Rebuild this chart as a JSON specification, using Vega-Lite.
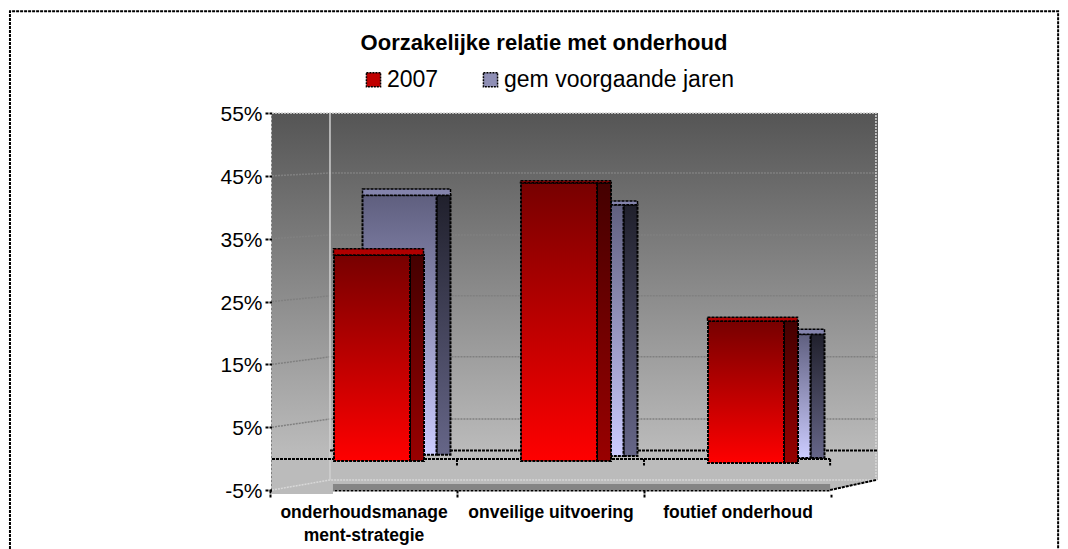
{
"$schema":"https://vega.github.io/schema/vega-lite/v6.json",
"width":606,"height":377,
"autosize":{"type":"none"},
"padding":{"left":272,"top":113,"right":190,"bottom":59},
"background":"white",
"config":{"view":{"stroke":null},"font":"Liberation Sans"},
"title":{"text":"Oorzakelijke relatie met onderhoud","font":"Liberation Sans","fontSize":22,"fontWeight":"bold","color":"#000","anchor":"middle","frame":"group","dx":-31,"dy":62,"offset":14},
"datasets":{
"bars":[
{"oorzaak":"onderhoudsmanagement-strategie","reeks":"2007","hoog":33.4,"vlak":32.4,"laag":-0.4},
{"oorzaak":"onveilige uitvoering","reeks":"2007","hoog":44.2,"vlak":43.9,"laag":-0.4},
{"oorzaak":"foutief onderhoud","reeks":"2007","hoog":22.5,"vlak":21.9,"laag":-0.7},
{"oorzaak":"onderhoudsmanagement-strategie","reeks":"gem voorgaande jaren","hoog":42.9,"vlak":41.9,"laag":0.6},
{"oorzaak":"onveilige uitvoering","reeks":"gem voorgaande jaren","hoog":41,"vlak":40.4,"laag":0.4},
{"oorzaak":"foutief onderhoud","reeks":"gem voorgaande jaren","hoog":20.6,"vlak":19.8,"laag":0.1}
],
"lijnen":[
{"deel":"g45","x":0.011,"y":45},{"deel":"g45","x":0.321,"y":45.45},{"deel":"g45","x":3.251,"y":45.45},
{"deel":"g35","x":0.011,"y":35},{"deel":"g35","x":0.321,"y":35.6},{"deel":"g35","x":3.251,"y":35.6},
{"deel":"g25","x":0.011,"y":25},{"deel":"g25","x":0.321,"y":25.9},{"deel":"g25","x":3.251,"y":25.9},
{"deel":"g15","x":0.011,"y":15},{"deel":"g15","x":0.321,"y":16.2},{"deel":"g15","x":3.251,"y":16.2},
{"deel":"g5","x":0.011,"y":5},{"deel":"g5","x":0.321,"y":6.3},{"deel":"g5","x":3.251,"y":6.3}
],
"zwart":[
{"deel":"rear","x":0.321,"y":1.3},{"deel":"rear","x":3.251,"y":1.3},
{"deel":"front","x":0.011,"y":-0.07},{"deel":"front","x":2.995,"y":-0.07},
{"deel":"t1","x":1,"y":-0.07},{"deel":"t1","x":1,"y":-1.1},
{"deel":"t2","x":2,"y":-0.07},{"deel":"t2","x":2,"y":-1.1},
{"deel":"t3","x":2.995,"y":-0.07},{"deel":"t3","x":2.995,"y":-1.1},
{"deel":"diag","x":2.995,"y":-5},{"deel":"diag","x":3.24,"y":-3.41},
{"deel":"frame","x":-1.39,"y":-14.4},{"deel":"frame","x":-1.39,"y":71.2},{"deel":"frame","x":4.214,"y":71.2},{"deel":"frame","x":4.214,"y":-14.4}
],
"vloer":[
{"deel":"f1","x":0.011,"y":-5},{"deel":"f1","x":0.321,"y":-3.41},{"deel":"f1","x":3.24,"y":-3.41},
{"deel":"f2","x":0.011,"y":55},{"deel":"f2","x":3.24,"y":55},{"deel":"f2","x":3.24,"y":-3.41}
]
},
"layer":[
{
"layer":[
{"data":{"values":[{"x":0.011,"x2":3.251,"y":55,"y2":-5}]},
 "mark":{"type":"rect","fill":{"gradient":"linear","x1":0,"y1":0,"x2":0,"y2":1,"stops":[{"offset":0,"color":"#555555"},{"offset":0.9,"color":"#bbbbbb"},{"offset":1,"color":"#bbbbbb"}]}},
 "encoding":{"x":{"field":"x","type":"quantitative","axis":null,"scale":{"domain":[0.011,3.251],"nice":false,"zero":false}},"x2":{"field":"x2"},"y":{"field":"y","type":"quantitative"},"y2":{"field":"y2"}}},
{"data":{"values":[{"x":2.995,"y":-5,"y2":-5.7},{"x":3.251,"y":-3.41,"y2":-5.7}]},
 "mark":{"type":"area","color":"white"},
 "encoding":{"x":{"field":"x","type":"quantitative"},"y":{"field":"y","type":"quantitative"},"y2":{"field":"y2"}}},
{"data":{"values":[{"x":0.337,"y":-4.05,"y2":-5},{"x":2.995,"y":-4.05,"y2":-5}]},
 "mark":{"type":"area","color":"#858585"},
 "encoding":{"x":{"field":"x","type":"quantitative"},"y":{"field":"y","type":"quantitative"},"y2":{"field":"y2"}}},
{"data":{"values":[{"x":0.011,"x2":0.337,"y":-5,"y2":-5.65}]},
 "mark":{"type":"rect","color":"#bbbbbb"},
 "encoding":{"x":{"field":"x","type":"quantitative"},"x2":{"field":"x2"},"y":{"field":"y","type":"quantitative"},"y2":{"field":"y2"}}},
{"data":{"name":"lijnen"},
 "mark":{"type":"line","color":"#808080","strokeWidth":1.5,"strokeDash":[2,1]},
 "encoding":{"detail":{"field":"deel"},"order":{"field":"x","type":"quantitative"},"x":{"field":"x","type":"quantitative"},"y":{"field":"y","type":"quantitative"}}},
{"data":{"name":"vloer"},
 "mark":{"type":"line","color":"#d8d8d8","strokeWidth":1.5,"strokeDash":[2,1]},
 "encoding":{"detail":{"field":"deel"},"x":{"field":"x","type":"quantitative"},"y":{"field":"y","type":"quantitative"},"order":{"value":null}}},
{"data":{"values":[{"x":0.321,"y":55,"y2":-3.41}]},
 "mark":{"type":"rule","color":"#d0d0d0","strokeWidth":1.5},
 "encoding":{"x":{"field":"x","type":"quantitative"},"y":{"field":"y","type":"quantitative"},"y2":{"field":"y2"}}},
{"data":{"name":"zwart"},
 "mark":{"type":"line","color":"#000","strokeWidth":2,"strokeDash":[3,1],"clip":false},
 "encoding":{"detail":{"field":"deel"},"x":{"field":"x","type":"quantitative"},"y":{"field":"y","type":"quantitative"},"order":{"value":null}}}
]
},
{
"data":{"name":"bars"},
"encoding":{
 "x":{"field":"oorzaak","type":"nominal","sort":null,"title":null,
  "scale":{"type":"band","domain":["onderhoudsmanagement-strategie","onveilige uitvoering","foutief onderhoud"],"range":[-2,559],"padding":0},
  "axis":{"orient":"bottom","labelExpr":"datum.value=='onderhoudsmanagement-strategie'?['onderhoudsmanage','ment-strategie']:datum.value","labelAngle":0,"labelFont":"Liberation Sans","labelFontSize":17.5,"labelFontWeight":"bold","labelColor":"#000","labelLimit":400,"labelPadding":6,"labelLineHeight":23,"labelBaseline":"top","tickBand":"extent","tickColor":"#000","tickWidth":2,"tickSize":7,"tickDash":[3,1],"domainColor":"#000","domainWidth":2,"domainDash":[3,1],"grid":false}}
},
"layer":[
{"transform":[{"filter":"datum.reeks!='2007'"}],
 "mark":{"type":"bar","width":14,"xOffset":80,"fill":{"gradient":"linear","x1":0,"y1":0,"x2":0,"y2":1,"stops":[{"offset":0,"color":"#20202c"},{"offset":1,"color":"#666688"}]},"stroke":"#000","strokeWidth":2,"strokeDash":[3,1]},
 "encoding":{"y":{"field":"vlak","type":"quantitative"},"y2":{"field":"laag"}}},
{"mark":{"type":"bar","width":1,"xOffset":36,"opacity":0},
 "encoding":{"y":{"field":"vlak","type":"quantitative"},"y2":{"field":"laag"},
 "color":{"field":"reeks","type":"nominal","scale":{"domain":["2007","gem voorgaande jaren"],"range":["#c00000","#8f8fb5"]},
 "legend":{"orient":"none","legendX":90,"legendY":-45,"direction":"horizontal","title":null,"symbolType":"square","symbolSize":200,"symbolOpacity":1,"labelFont":"Liberation Sans","labelFontSize":23,"labelColor":"#000","labelLimit":400,"labelOffset":2,"columnPadding":40,"symbolStrokeColor":"#000","symbolStrokeWidth":1.5,"symbolDash":[2,1],
 "encoding":{"symbols":{"update":{"fill":{"signal":"datum.value=='2007'?{gradient:'linear',x1:0,y1:0,x2:0,y2:1,stops:[{offset:0,color:'#770000'},{offset:1,color:'#ff0000'}]}:{gradient:'linear',x1:0,y1:0,x2:0,y2:1,stops:[{offset:0,color:'#5f5f7f'},{offset:1,color:'#ccccff'}]}"},"opacity":{"value":1}}}}}}}},
{"transform":[{"filter":"datum.reeks!='2007'"}],
 "mark":{"type":"bar","width":74,"xOffset":36,"fill":{"gradient":"linear","x1":0,"y1":0,"x2":0,"y2":1,"stops":[{"offset":0,"color":"#5f5f7f"},{"offset":1,"color":"#ccccff"}]},"stroke":"#000","strokeWidth":2,"strokeDash":[3,1]},
 "encoding":{"y":{"field":"vlak","type":"quantitative"},"y2":{"field":"laag"}}},
{"transform":[{"filter":"datum.reeks!='2007'"}],
 "mark":{"type":"bar","width":88,"xOffset":43,"fill":"#8484ac","stroke":"#000","strokeWidth":1.5,"strokeDash":[3,1]},
 "encoding":{"y":{"field":"hoog","type":"quantitative"},"y2":{"field":"vlak"}}},
{"transform":[{"filter":"datum.reeks=='2007'"}],
 "mark":{"type":"bar","width":14,"xOffset":53.5,"fill":{"gradient":"linear","x1":0,"y1":0,"x2":0,"y2":1,"stops":[{"offset":0,"color":"#440000"},{"offset":1,"color":"#990000"}]},"stroke":"#000","strokeWidth":2,"strokeDash":[3,1]},
 "encoding":{"y":{"field":"vlak","type":"quantitative"},"y2":{"field":"laag"}}},
{"transform":[{"filter":"datum.reeks=='2007'"}],
 "mark":{"type":"bar","width":76,"xOffset":8.5,"fill":{"gradient":"linear","x1":0,"y1":0,"x2":0,"y2":1,"stops":[{"offset":0,"color":"#770000"},{"offset":1,"color":"#ff0000"}]},"stroke":"#000","strokeWidth":2,"strokeDash":[3,1]},
 "encoding":{"y":{"field":"vlak","type":"quantitative"},"y2":{"field":"laag"}}},
{"transform":[{"filter":"datum.reeks=='2007'"}],
 "mark":{"type":"bar","width":90,"xOffset":15,"fill":"#b00000","stroke":"#000","strokeWidth":1.5,"strokeDash":[3,1]},
 "encoding":{"y":{"field":"hoog","type":"quantitative","title":null,
  "scale":{"domain":[-5,55],"nice":false,"zero":false},
  "axis":{"values":[-5,5,15,25,35,45,55],"labelExpr":"datum.value+'%'","labelFont":"Liberation Sans","labelFontSize":21,"labelColor":"#000","labelPadding":2,"labelOffset":1.5,"tickColor":"#000","tickWidth":2,"tickSize":8,"tickDash":[3,1],"domainColor":"#000","domainWidth":2,"domainDash":[3,1],"grid":false}},"y2":{"field":"vlak"}}}
]
}
],
"resolve":{"scale":{"x":"independent"}}
}
